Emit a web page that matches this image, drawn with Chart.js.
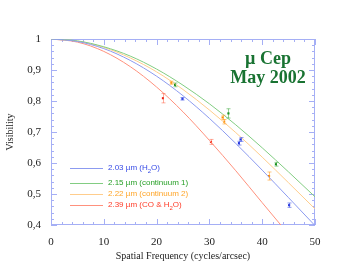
<!DOCTYPE html>
<html>
<head>
<meta charset="utf-8">
<script src="https://cdn.jsdelivr.net/npm/chart.js@4.4.0/dist/chart.umd.min.js"></script>
<style>
  html, body { margin: 0; padding: 0; background: #fff; }
  #box { width: 352px; height: 272px; }
</style>
</head>
<body>
<div id="box"><canvas id="vis" width="352" height="272"></canvas></div>
<script>
// model curves (uniform disk fits)
var curveX      = [0, 5, 10, 15, 20, 25, 30, 35, 40, 45, 50];
var curveBlue   = [1, 0.992, 0.969, 0.931, 0.880, 0.817, 0.744, 0.663, 0.577, 0.488, 0.398];
var curveGreen  = [1, 0.994, 0.975, 0.945, 0.903, 0.851, 0.791, 0.723, 0.649, 0.571, 0.491];
var curveOrange = [1, 0.993, 0.973, 0.939, 0.894, 0.837, 0.771, 0.698, 0.619, 0.536, 0.452];
var curveRed    = [1, 0.990, 0.960, 0.911, 0.845, 0.765, 0.673, 0.575, 0.472, 0.370];

// measured points + errors
var blueX = [24.9, 35.6, 35.9, 45.1];
var blueV = [0.807, 0.664, 0.676, 0.464];
var blueE = [0.004, 0.006, 0.006, 0.007];
var greenX = [23.5, 33.6, 42.6];
var greenV = [0.852, 0.760, 0.596];
var greenE = [0.006, 0.015, 0.006];
var orangeX = [22.8, 32.5, 32.8, 41.3];
var orangeV = [0.859, 0.747, 0.733, 0.558];
var orangeE = [0.005, 0.007, 0.007, 0.013];
var redX = [21.2, 30.3];
var redV = [0.809, 0.668];
var redE = [0.015, 0.008];

var xTicks = [0, 10, 20, 30, 40, 50];
var yTickLabels = { '0.4': '0,4', '0.5': '0,5', '0.6': '0,6', '0.7': '0,7', '0.8': '0,8', '0.9': '0,9', '1': '1' };

var legendRows = [
  [{ t: '2.03 \u00b5m (H' }, { t: '2', sub: true }, { t: 'O)' }],
  [{ t: '2.15 \u00b5m (continuum 1)' }],
  [{ t: '2.22 \u00b5m (continuum 2)' }],
  [{ t: '2.39 \u00b5m (CO & H' }, { t: '2', sub: true }, { t: 'O)' }]
];
var legendY = [168, 183, 194, 205];
var titleLines = ['\u00b5 Cep', 'May 2002'];

var lineCol = ['rgb(140,155,240)', 'rgb(130,205,130)', 'rgb(255,205,140)', 'rgb(255,145,125)'];
var textCol = ['rgb(55,75,230)', 'rgb(40,160,40)', 'rgb(255,165,40)', 'rgb(255,60,40)'];
var dotCol  = ['rgb(30,45,220)', 'rgb(20,140,30)', 'rgb(255,140,0)', 'rgb(235,30,20)'];
var barCol  = ['rgba(60,80,230,0.6)', 'rgba(40,160,40,0.5)', 'rgba(255,160,40,0.6)', 'rgba(255,90,60,0.5)'];
var frameCol = 'rgb(165,175,245)';

function toXY(xs, ys) {
  var out = [];
  for (var i = 0; i < ys.length; i++) out.push({ x: xs[i], y: ys[i] });
  return out;
}

function curveSet(ys, i) {
  return {
    data: toXY(curveX, ys), showLine: true, borderColor: lineCol[i], borderWidth: 1,
    pointRadius: 0, cubicInterpolationMode: 'monotone', fill: false
  };
}

function pointSet(xs, ys, es, i) {
  return {
    data: toXY(xs, ys), errs: es, showLine: false, pointStyle: 'rect',
    pointRadius: 1.5, backgroundColor: dotCol[i], borderColor: dotCol[i], borderWidth: 0
  };
}

// frame with inward ticks on all sides
var framePlugin = {
  id: 'frame',
  beforeDatasetsDraw: function (chart) {
    var c = chart.ctx, a = chart.chartArea;
    var sx = chart.scales.x, sy = chart.scales.y;
    c.save();
    c.strokeStyle = frameCol;
    c.lineWidth = 1;
    c.strokeRect(a.left + 0.5, a.top + 0.5, a.right - a.left - 1, a.bottom - a.top - 1);
    c.beginPath();
    for (var v = 0; v <= 50; v += 2) {
      var px = Math.round(sx.getPixelForValue(v)) + 0.5;
      var len = (v % 10 === 0) ? 6 : 3;
      c.moveTo(px, a.bottom); c.lineTo(px, a.bottom - len);
      c.moveTo(px, a.top); c.lineTo(px, a.top + len);
    }
    for (var k = 0; k <= 30; k++) {
      var py = Math.round(sy.getPixelForValue(0.4 + k * 0.02)) + 0.5;
      var l2 = (k % 5 === 0) ? 6 : 3;
      c.moveTo(a.left, py); c.lineTo(a.left + l2, py);
      c.moveTo(a.right, py); c.lineTo(a.right - l2, py);
    }
    c.stroke();
    c.restore();
  },
  afterDatasetsDraw: function (chart) {
    var c = chart.ctx;
    var sx = chart.scales.x, sy = chart.scales.y;
    c.save();
    // error bars
    chart.data.datasets.forEach(function (ds) {
      if (!ds.errs) return;
      var idx = ds.colorIndex;
      c.strokeStyle = barCol[idx];
      c.lineWidth = 1;
      c.beginPath();
      ds.data.forEach(function (p, j) {
        var px = Math.round(sx.getPixelForValue(p.x)) + 0.5;
        var y1 = sy.getPixelForValue(p.y - ds.errs[j]);
        var y2 = sy.getPixelForValue(p.y + ds.errs[j]);
        c.moveTo(px, y1); c.lineTo(px, y2);
        c.moveTo(px - 2, y1); c.lineTo(px + 2, y1);
        c.moveTo(px - 2, y2); c.lineTo(px + 2, y2);
      });
      c.stroke();
    });
    // legend
    c.textBaseline = 'middle';
    legendRows.forEach(function (row, i) {
      var y = legendY[i];
      c.strokeStyle = lineCol[i];
      c.beginPath();
      c.moveTo(70, y + 0.5); c.lineTo(103, y + 0.5);
      c.stroke();
      var x = 108;
      c.fillStyle = textCol[i];
      row.forEach(function (seg) {
        c.font = (seg.sub ? '6px' : '8px') + ' "Liberation Sans", Arial, sans-serif';
        c.fillText(seg.t, x, seg.sub ? y + 3 : y);
        x += c.measureText(seg.t).width;
      });
    });
    // title
    c.fillStyle = 'rgb(25,115,50)';
    c.font = 'bold 18px "Liberation Serif", "DejaVu Serif", serif';
    c.textAlign = 'center';
    c.fillText(titleLines[0], 268, 59);
    c.fillText(titleLines[1], 268, 78);
    c.restore();
  }
};

var sets = [
  curveSet(curveBlue, 0), curveSet(curveGreen, 1), curveSet(curveOrange, 2), curveSet(curveRed, 3),
  pointSet(blueX, blueV, blueE, 0), pointSet(greenX, greenV, greenE, 1),
  pointSet(orangeX, orangeV, orangeE, 2), pointSet(redX, redV, redE, 3)
];
sets[4].colorIndex = 0; sets[5].colorIndex = 1; sets[6].colorIndex = 2; sets[7].colorIndex = 3;

var serif = '"Liberation Serif", "DejaVu Serif", serif';

new Chart(document.getElementById('vis').getContext('2d'), {
  type: 'scatter',
  data: { datasets: sets },
  options: {
    responsive: false,
    animation: false,
    layout: { padding: { top: 39, right: 37, left: 0, bottom: 0 } },
    plugins: { legend: { display: false }, tooltip: { enabled: false } },
    scales: {
      x: {
        type: 'linear', min: 0, max: 50,
        afterFit: function (s) { s.height = 47; },
        afterBuildTicks: function (s) { s.ticks = xTicks.map(function (v) { return { value: v }; }); },
        grid: { display: false, drawTicks: false },
        border: { display: false },
        ticks: { padding: 11, color: '#222', font: { family: serif, size: 11 } },
        title: { display: true, text: 'Spatial Frequency (cycles/arcsec)', color: '#222',
                 font: { family: serif, size: 10 }, padding: { top: 0, bottom: 10 } }
      },
      y: {
        type: 'linear', min: 0.4, max: 1,
        afterFit: function (s) { s.width = 51; },
        grid: { display: false, drawTicks: false },
        border: { display: false },
        ticks: {
          stepSize: 0.1, padding: 10, color: '#222', font: { family: serif, size: 11 },
          callback: function (v) { return yTickLabels[String(Math.round(v * 10) / 10)]; }
        },
        title: { display: true, text: 'Visibility', color: '#222',
                 font: { family: serif, size: 10 }, padding: { top: 4, bottom: 0 } }
      }
    }
  },
  plugins: [framePlugin]
});
</script>
</body>
</html>
